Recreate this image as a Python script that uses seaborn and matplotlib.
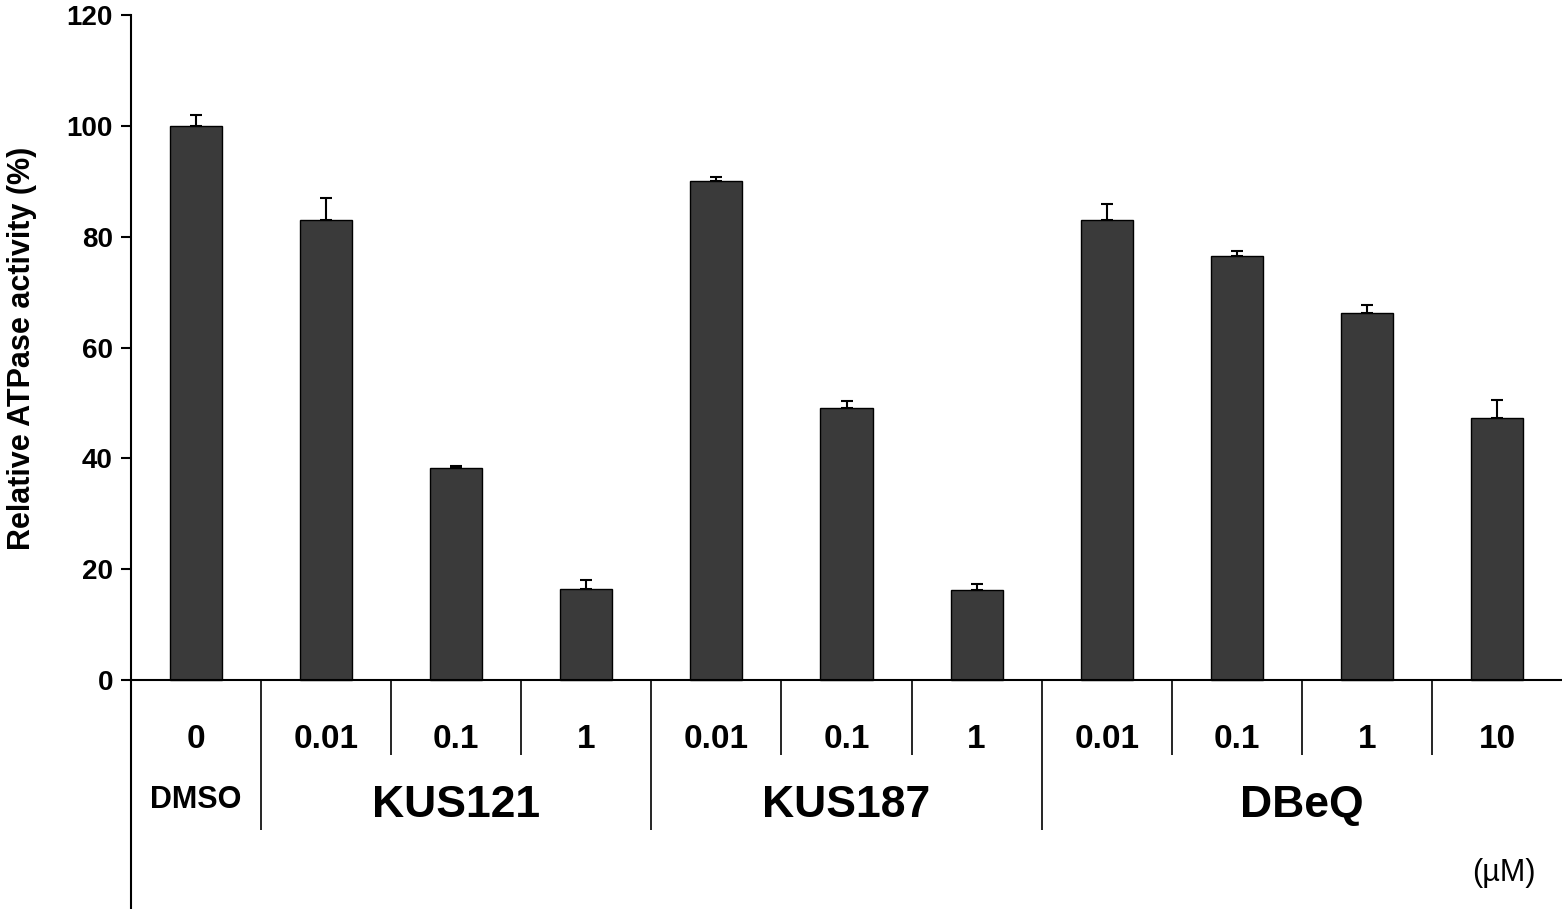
import numpy as np
import pandas as pd
import matplotlib
matplotlib.use("Agg")
import matplotlib.pyplot as plt
import seaborn as sns

# values
doses = ["0", "0.01", "0.1", "1", "0.01", "0.1", "1", "0.01", "0.1", "1", "10"]
compounds = ["DMSO", "KUS121", "KUS121", "KUS121", "KUS187", "KUS187", "KUS187",
             "DBeQ", "DBeQ", "DBeQ", "DBeQ"]
activity = [100, 83, 38.3, 16.5, 90, 49, 16.3, 83, 76.6, 66.3, 47.2]
sem = [2.0, 4.0, 0.3, 1.5, 0.7, 1.3, 1.0, 2.9, 0.8, 1.4, 3.4]
yticks = [0, 20, 40, 60, 80, 100, 120]

df = pd.DataFrame({"cond": [f"{c} {d}" for c, d in zip(compounds, doses)],
                   "dose": doses, "compound": compounds, "activity": activity, "sem": sem})

sns.set_style("white")
plt.rcParams["font.family"] = ["Liberation Sans", "DejaVu Sans"]
plt.rcParams["text.color"] = "black"
plt.rcParams["ytick.color"] = "black"

fig = plt.figure(figsize=(15.62, 9.09), dpi=100)
ax = fig.add_axes([131 / 1562, 0, 1 - 131 / 1562, (909 - 15) / 909])

sns.barplot(data=df, x="cond", y="activity", color="#3a3a3a", width=0.4,
            edgecolor="black", linewidth=1, saturation=1, errorbar=None, ax=ax)
n = len(df)
x = np.arange(n)
ax.errorbar(x, df["activity"], yerr=[np.zeros(n), df["sem"]], fmt="none",
            ecolor="black", elinewidth=1.5, capsize=4.5, capthick=1.5)

# axis runs from the figure bottom up to 120; 0 sits at y=680 px
ymin = -229 / (665 / 120)
ax.set_ylim(ymin, 120)
ax.set_xlim(-0.5, n - 0.5)
ax.set_yticks(yticks)
ax.set_yticklabels([str(t) for t in yticks], fontsize=20, fontweight="bold")
ax.tick_params(axis="y", direction="out", length=7, width=1.5, left=True, pad=6,
               labelcolor="black")
ax.set_xticks([])
ax.set_xlabel("")
ax.set_ylabel("")
fig.text(22 / 1562, 1 - 348 / 909, "Relative ATPase activity (%)", rotation=90,
         ha="center", va="center", fontsize=22, fontweight="bold")

for s in ["top", "right", "bottom"]:
    ax.spines[s].set_visible(False)
ax.spines["left"].set_linewidth(1.5)
ax.spines["left"].set_color("black")
ax.axhline(0, color="black", lw=1.5)

# separators between groups / doses
big = [0.5, 3.5, 6.5]
for s in [0.5 + i for i in range(n - 1)]:
    bottom = -27.1 if s in big else -13.5
    ax.vlines(s, bottom, 0, color="black", lw=1.2)

for i, d in enumerate(doses):
    ax.text(i, -10.8, d, ha="center", va="center", fontsize=24, fontweight="bold")

groups = {}
for i, c in enumerate(compounds):
    groups.setdefault(c, []).append(i)
for c, idx in groups.items():
    if c == "DMSO":
        ax.text(np.mean(idx), -21.7, c, ha="center", va="center", fontsize=22, fontweight="bold")
    else:
        ax.text(np.mean(idx), -22.6, c, ha="center", va="center", fontsize=32, fontweight="bold")
ax.text(10.05, -34.8, "(\u00b5M)", ha="center", va="center", fontsize=22)

fig.savefig("out.png", dpi=100)
